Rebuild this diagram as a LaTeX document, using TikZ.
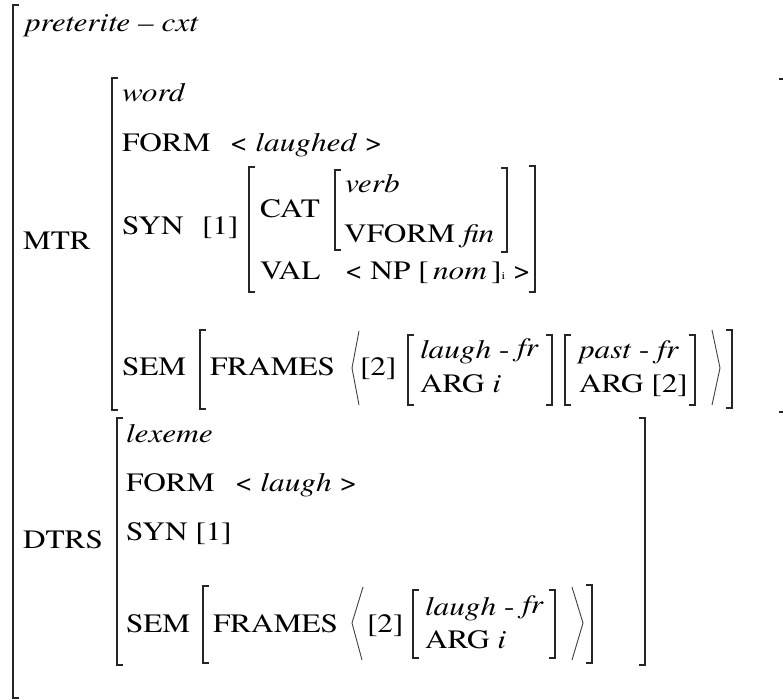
\documentclass[tikz,border=0pt]{standalone}
\usepackage{fontspec}
\setmainfont{texgyretermes}[
  Extension=.otf,
  UprightFont=*-regular,
  ItalicFont=*-italic,
  BoldFont=*-bold,
  FakeStretch=1.18]
\begin{document}
\begin{tikzpicture}[x=1pt,y=-1pt,
  txt/.style={anchor=base west,inner sep=0pt,outer sep=0pt,
    font=\fontsize{26.5}{30}\selectfont,text=black},
  brk/.style={line width=1.3pt,draw=black!85},
  ang/.style={line width=0.9pt,draw=black!75}]
% page frame
\clip (0,0) rectangle (783,700);
\fill[white] (0,0) rectangle (783,700);

% square brackets: \LBrk{x}{top}{bottom}, \RBrk{x}{top}{bottom}
\newcommand\LBrk[3]{\draw[brk] (#1+6,#2) -- (#1,#2) -- (#1,#3) -- (#1+6,#3);}
\newcommand\RBrk[3]{\draw[brk] (#1-6,#2) -- (#1,#2) -- (#1,#3) -- (#1-6,#3);}

% outer structure
\LBrk{13}{5}{698}
\node[txt] (ptype) at (25,32) {\textit{preterite – cxt}};
\node[txt] (mtr) at (23,250) {MTR};
\node[txt] (dtrs) at (23,548) {DTRS};

% mother
\LBrk{112}{78}{410}
\RBrk{785}{79}{412}
\node[txt] (mword) at (122,102) {\textit{word}};
\node[txt] (mform) at (122,152) {FORM};
\node[txt] (mformv) at (230,152) {< \textit{laughed} >};
\node[txt] (msyn) at (122,235) {SYN};
\node[txt] (msyntag) at (202,235) {[1]};
\LBrk{249}{167}{292}
\RBrk{535}{166}{292}
\node[txt] (mcat) at (260,218) {CAT};
\LBrk{335}{170}{250}
\RBrk{507}{168}{252}
\node[txt] (mverb) at (345,193) {\textit{verb}};
\node[txt] (mvform) at (344,243) {VFORM \textit{fin}};
\node[txt] (mval) at (260,279) {VAL};
\node[txt] (mvalv) at (345,279) {< NP [\,\textit{nom}\,]{\fontsize{11}{12}\selectfont i} >};

\node[txt] (msem) at (122,375) {SEM};
\LBrk{200}{330}{409}
\RBrk{732}{330}{408}
\node[txt] (mframes) at (210,375) {FRAMES};
\draw[ang] (359,331) -- (352,368) -- (359,405);
\node[txt] (mtag) at (360,375) {[2]};
\LBrk{408}{335}{405}
\RBrk{552}{335}{405}
\node[txt] (mlaugh) at (420,358) {\textit{laugh} - \raisebox{2pt}{\textit{fr}}};
\node[txt] (marg) at (420,392) {ARG \textit{i}};
\LBrk{565}{335}{405}
\RBrk{695}{335}{405}
\node[txt] (mpast) at (579,358) {\textit{past} - \textit{fr}};
\node[txt] (margb) at (579,392) {ARG [2]};
\draw[ang] (712,330) -- (720,368) -- (712,405);

% daughter
\LBrk{117}{418}{665}
\RBrk{645}{418}{665}
\node[txt] (dlex) at (126,442) {\textit{lexeme}};
\node[txt] (dform) at (126,491) {FORM};
\node[txt] (dformv) at (235,491) {< \textit{laugh} >};
\node[txt] (dsyn) at (126,540) {SYN [1]};
\node[txt] (dsem) at (126,632) {SEM};
\LBrk{203}{586}{663}
\RBrk{592}{585}{663}
\node[txt] (dframes) at (213,632) {FRAMES};
\draw[ang] (363,587) -- (352,623) -- (362,660);
\node[txt] (dtag) at (367,632) {[2]};
\LBrk{413}{590}{658}
\RBrk{555}{590}{658}
\node[txt] (dlaugh) at (425,615) {\textit{laugh} - \raisebox{2pt}{\textit{fr}}};
\node[txt] (darg) at (425,648) {ARG \textit{i}};
\draw[ang] (572,587) -- (583,623) -- (572,660);
\end{tikzpicture}
\end{document}
